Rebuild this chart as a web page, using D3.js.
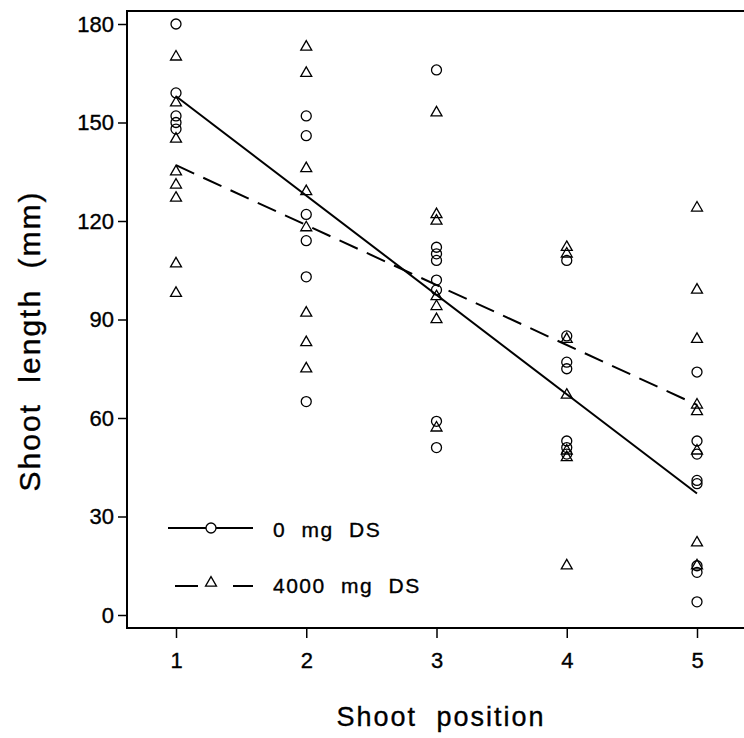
<!DOCTYPE html>
<html lang="en">
<head>
  <meta charset='utf-8'>
  <title>Shoot length by shoot position</title>
  <style>
     body { margin: 0; background: #fff; }
     text { font-family: "Liberation Sans", Arial, Helvetica, sans-serif; fill: #000; stroke: #000; stroke-width: 0.35px; }
  </style>
</head>
<body>
  <div id="d3-container"></div>

<script src="https://d3js.org/d3.v7.min.js"></script>
<script>
    ////////////////////////////////////////////////// DATA
    var positions = [1, 2, 3, 4, 5];

    // 0 mg DS (circles), one list per shoot position
    var dose0 = [
        [180, 159, 152, 150, 148],
        [152, 146, 122, 114, 103, 65],
        [166, 112, 110, 108, 102, 99, 59, 51],
        [108, 85, 77, 75, 53, 51, 49],
        [74, 53, 49, 41, 40, 15, 13, 4]
    ];

    // 4000 mg DS (triangles)
    var dose4000 = [
        [170, 156, 145, 135, 131, 127, 107, 98],
        [173, 165, 136, 129, 118, 92, 83, 75],
        [153, 122, 120, 97, 94, 90, 57],
        [112, 110, 84, 67, 50, 48, 15],
        [124, 99, 84, 64, 62, 50, 22, 15]
    ];

    // fitted values at position 1 and 5
    var fit0    = [158, 37];
    var fit4000 = [137, 64];

    var yTicks = [0, 30, 60, 90, 120, 150, 180];
    var seriesNames = ["0 mg DS", "4000 mg DS"];

    ////////////////////////////////////////////////// SETUP
    var width = 744, height = 738;
    var frame = {left: 127, top: 11, bottom: 628, right: 744};

    var svg = d3.select("#d3-container").append("svg")
        .attr("width", width)
        .attr("height", height);

    var x = d3.scaleLinear().domain([1, 5]).range([176, 697]);
    var y = d3.scaleLinear().domain([0, 180]).range([615, 24]);

    // frame lines
    svg.append("path")
        .attr("fill", "none")
        .attr("stroke", "#000")
        .attr("stroke-width", 2)
        .attr("d", `M${frame.right},${frame.top}H${frame.left}V${frame.bottom}H${frame.right}`);

    // axes
    var yAxis = svg.append("g")
        .attr("transform", `translate(${frame.left},0)`)
        .call(d3.axisLeft(y).tickValues(yTicks).tickSize(9).tickPadding(4));

    var xAxis = svg.append("g")
        .attr("transform", `translate(0,${frame.bottom})`)
        .call(d3.axisBottom(x).tickValues(positions).tickSize(10).tickPadding(14).tickFormat(d3.format("d")));

    [yAxis, xAxis].forEach(function(a){
        a.select(".domain").remove();
        a.selectAll(".tick line").attr("stroke", "#000").attr("stroke-width", 1.5);
        a.selectAll(".tick text")
            .attr("font-size", 22)
            .attr("font-family", "Liberation Sans, Arial, sans-serif")
            .attr("fill", "#000");
    });

    // axis titles
    svg.append("text")
        .attr("x", 441)
        .attr("y", 726)
        .attr("text-anchor", "middle")
        .attr("font-size", 27)
        .attr("letter-spacing", 2)
        .attr("word-spacing", 10)
        .text("Shoot position");

    svg.append("text")
        .attr("transform", "translate(40,341) rotate(-90)")
        .attr("text-anchor", "middle")
        .attr("font-size", 30)
        .attr("letter-spacing", 2)
        .attr("word-spacing", 10)
        .text("Shoot length (mm)");

    ////////////////////////////////////////////////// MARKS
    var triangle = d3.symbol().type(d3.symbolTriangle).size(52);

    function flatten(groups){
        var out = [];
        groups.forEach(function(vals, i){
            vals.forEach(function(v){ out.push({pos: positions[i], value: v}); });
        });
        return out;
    }

    // regression lines
    svg.append("line")
        .attr("x1", x(1)).attr("y1", y(fit0[0]))
        .attr("x2", x(5)).attr("y2", y(fit0[1]))
        .attr("stroke", "#000").attr("stroke-width", 2);

    svg.append("line")
        .attr("x1", x(1)).attr("y1", y(fit4000[0]))
        .attr("x2", x(5)).attr("y2", y(fit4000[1]))
        .attr("stroke", "#000").attr("stroke-width", 2)
        .attr("stroke-dasharray", "20,10");

    svg.append("g").selectAll("circle")
        .data(flatten(dose0))
        .join("circle")
        .attr("cx", d => x(d.pos))
        .attr("cy", d => y(d.value))
        .attr("r", 5)
        .attr("fill", "none")
        .attr("stroke", "#000")
        .attr("stroke-width", 1.3);

    svg.append("g").selectAll("path")
        .data(flatten(dose4000))
        .join("path")
        .attr("transform", d => `translate(${x(d.pos)},${y(d.value)})`)
        .attr("d", triangle)
        .attr("fill", "none")
        .attr("stroke", "#000")
        .attr("stroke-width", 1.3);

    ////////////////////////////////////////////////// LEGEND
    var legend = svg.append("g");

    legend.append("line")
        .attr("x1", 168).attr("x2", 253).attr("y1", 528).attr("y2", 528)
        .attr("stroke", "#000").attr("stroke-width", 2);
    legend.append("circle")
        .attr("cx", 211).attr("cy", 528).attr("r", 5)
        .attr("fill", "#fff").attr("stroke", "#000").attr("stroke-width", 1.3);

    legend.append("line")
        .attr("x1", 175).attr("x2", 253).attr("y1", 586).attr("y2", 586)
        .attr("stroke", "#000").attr("stroke-width", 2)
        .attr("stroke-dasharray", "23,35,20");
    legend.append("path")
        .attr("transform", "translate(211,583)")
        .attr("d", triangle)
        .attr("fill", "none").attr("stroke", "#000").attr("stroke-width", 1.3);

    legend.selectAll("text")
        .data(seriesNames)
        .join("text")
        .attr("x", 273)
        .attr("y", (d, i) => i === 0 ? 537 : 593)
        .attr("font-size", 21)
        .attr("letter-spacing", 1.5)
        .attr("word-spacing", 8)
        .text(d => d);
</script>
</body>
</html>
